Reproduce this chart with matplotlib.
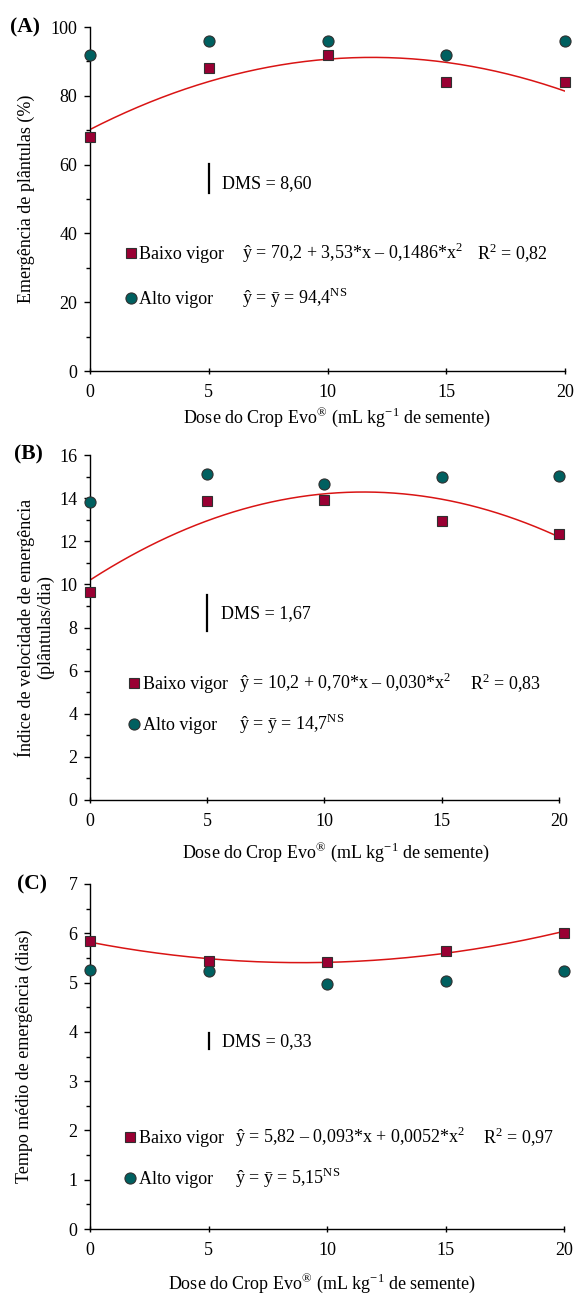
import matplotlib
matplotlib.use("Agg")
import matplotlib.pyplot as plt
import numpy as np
from matplotlib.ticker import MultipleLocator

plt.rcParams['font.family'] = ['Liberation Serif', 'DejaVu Serif']
plt.rcParams['mathtext.fontset'] = 'custom'
plt.rcParams['mathtext.rm'] = 'Liberation Serif'

doses = [0, 5, 10, 15, 20]

# Panel A - emergence (%)
a_baixo = [68, 88, 92, 84, 84]
a_alto = [92, 96, 96, 92, 96]
a_coef = [70.2, 3.53, -0.1486]
a_dms = 8.60

# Panel B - emergence speed index
b_baixo = [9.66, 13.86, 13.91, 12.94, 12.32]
b_alto = [13.83, 15.10, 14.67, 14.98, 15.02]
b_coef = [10.2, 0.70, -0.030]
b_dms = 1.67

# Panel C - mean emergence time
c_baixo = [5.85, 5.44, 5.42, 5.64, 6.00]
c_alto = [5.25, 5.23, 4.97, 5.04, 5.23]
c_coef = [5.82, -0.093, 0.0052]
c_dms = 0.33

col_sq = '#990033'
col_ci = '#006060'
col_line = '#D91414'
FS = 13

W, H = 574, 1293
fig = plt.figure(figsize=(W / 100, H / 100), dpi=100)


def fx(px):
    return px / W


def fy(py):
    return 1 - py / H


def txt(ax, x, y, s):
    # place text so its cap-height middle sits at data y
    ax.annotate(s, (x, y), xytext=(0, -0.33 * FS), textcoords='offset points',
                fontsize=FS, va='baseline', ha='left')


def panel(rect, baixo, alto, coef, dms, ymax, major, minor, ylabel, letter,
          letter_pos, eq1, r2, eq2, dms_text, dms_y0, dms_text_xy, leg_y,
          leg_x, ylabel_x, xlabel_xy):
    l, t, r, b = rect
    ax = fig.add_axes([fx(l), fy(b), fx(r - l), (b - t) / H])
    ax.set_xlim(0, 20)
    ax.set_ylim(0, ymax)
    for s in ['top', 'right']:
        ax.spines[s].set_visible(False)
    for s in ['left', 'bottom']:
        ax.spines[s].set_linewidth(1.0)
    ax.xaxis.set_major_locator(MultipleLocator(5))
    ax.yaxis.set_major_locator(MultipleLocator(major))
    ax.yaxis.set_minor_locator(MultipleLocator(minor))
    ax.tick_params(axis='x', direction='inout', length=5, width=1, labelsize=FS, pad=7)
    ax.tick_params(axis='y', which='major', direction='out', length=4, width=1, labelsize=FS, pad=5)
    ax.tick_params(axis='y', which='minor', direction='out', length=3, width=1)

    xs = np.linspace(0, 20, 200)
    ys = coef[0] + coef[1] * xs + coef[2] * xs ** 2
    ax.plot(xs, ys, color=col_line, lw=1.1, zorder=2)
    ax.plot(doses, alto, 'o', ms=8, mfc=col_ci, mec='#303030', mew=0.8,
            clip_on=False, zorder=3)
    ax.plot(doses, baixo, 's', ms=7.5, mfc=col_sq, mec='#303030', mew=0.8,
            clip_on=False, zorder=4)

    # DMS bar
    ax.plot([5, 5], [dms_y0, dms_y0 + dms], color='black', lw=1.6)
    txt(ax, dms_text_xy[0], dms_text_xy[1], dms_text)

    # legend-like annotations
    mx, tx, ex, rx = leg_x
    ax.plot([mx], [leg_y[0]], 's', ms=7.5, mfc=col_sq, mec='#303030', mew=0.8,
            clip_on=False)
    ax.plot([mx], [leg_y[1]], 'o', ms=8, mfc=col_ci, mec='#303030', mew=0.8,
            clip_on=False)
    txt(ax, tx, leg_y[0], 'Baixo vigor')
    txt(ax, tx, leg_y[1], 'Alto vigor')
    txt(ax, ex, leg_y[0], eq1)
    txt(ax, rx, leg_y[0], r2)
    txt(ax, ex, leg_y[1], eq2)

    fig.text(fx(ylabel_x), fy((t + b) / 2), ylabel, rotation=90, fontsize=FS,
             ha='center', va='center', linespacing=1.15)
    fig.text(fx(xlabel_xy[0]), fy(xlabel_xy[1]),
             'Dose do Crop Evo$^{\\circledR}$ (mL kg$^{-1}$ de semente)',
             fontsize=FS, ha='center', va='center')
    fig.text(fx(letter_pos[0]), fy(letter_pos[1]), letter, fontsize=15.5,
             fontweight='bold', ha='left', va='center')
    return ax


panel((90, 27, 565, 371), a_baixo, a_alto, a_coef, a_dms, 100, 20, 10,
      'Emergência de plântulas (%)', '(A)', (10, 27),
      'ŷ = 70,2 + 3,53*x – 0,1486*x$^{2}$', 'R$^{2}$ = 0,82',
      'ŷ = ȳ = 94,4$^{\\mathrm{NS}}$', 'DMS = 8,60', 51.6, (5.55, 55),
      (34.3, 21.2), (1.72, 2.07, 6.38, 16.3), 26, (337, 417))

panel((90, 455, 559, 800), b_baixo, b_alto, b_coef, b_dms, 16, 2, 1,
      'Índice de velocidade de emergência\n(plântulas/dia)', '(B)', (14, 454),
      'ŷ = 10,2 + 0,70*x – 0,030*x$^{2}$', 'R$^{2}$ = 0,83',
      'ŷ = ȳ = 14,7$^{\\mathrm{NS}}$', 'DMS = 1,67', 7.85, (5.6, 8.69),
      (5.42, 3.51), (1.89, 2.28, 6.36, 16.2), 34, (336, 852))

panel((90, 884, 564, 1229), c_baixo, c_alto, c_coef, c_dms, 7, 1, 0.5,
      'Tempo médio de emergência (dias)', '(C)', (17, 884),
      'ŷ = 5,82 – 0,093*x + 0,0052*x$^{2}$', 'R$^{2}$ = 0,97',
      'ŷ = ȳ = 5,15$^{\\mathrm{NS}}$', 'DMS = 0,33', 3.65, (5.55, 3.83),
      (1.87, 1.03), (1.7, 2.05, 6.13, 16.6), 24, (322, 1283))

fig.savefig('out.png', dpi=100)
